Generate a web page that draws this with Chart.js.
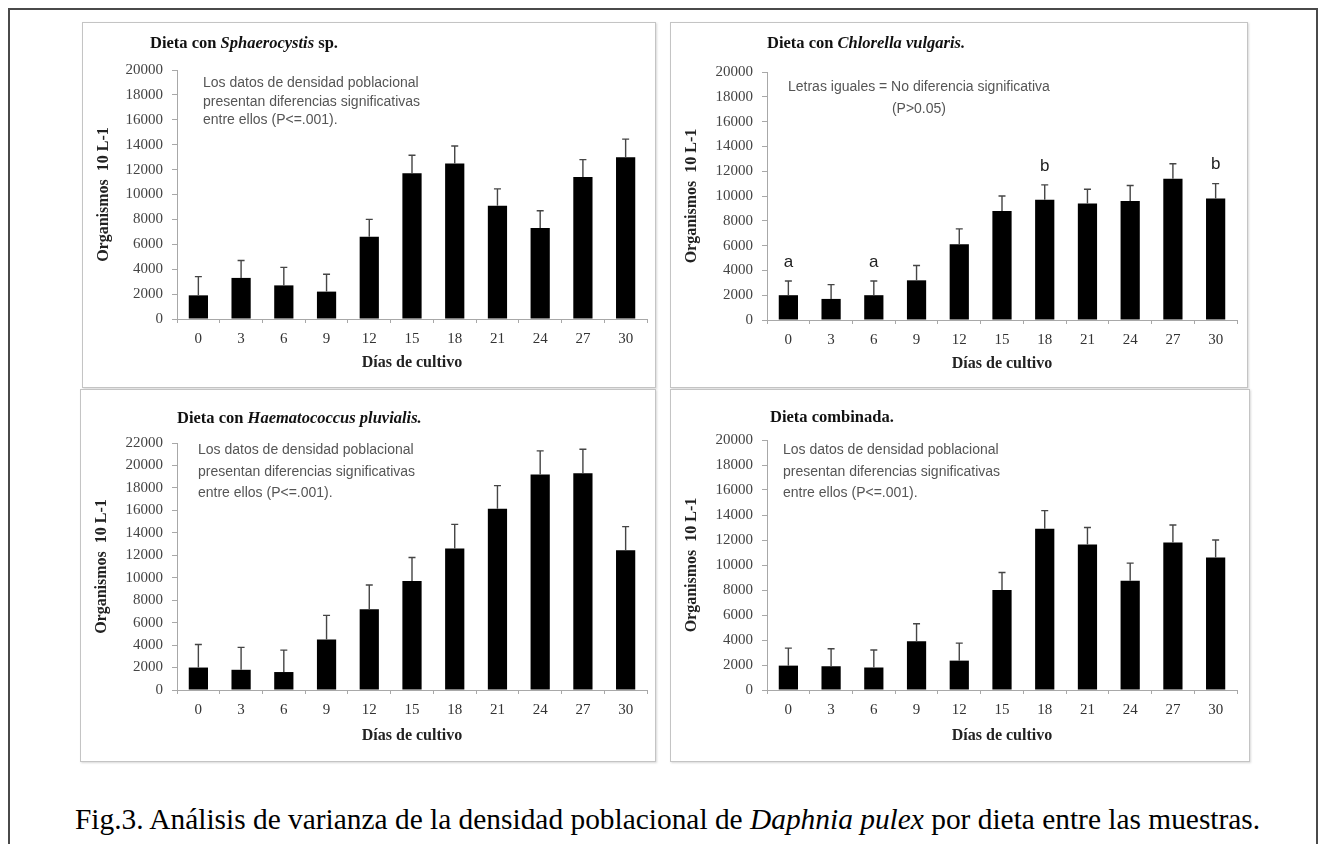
<!DOCTYPE html>
<html lang="es">
<head>
<meta charset="utf-8">
<title>Fig.3 Daphnia pulex</title>
<script src="https://cdn.jsdelivr.net/npm/chart.js@4.4.1/dist/chart.umd.min.js"></script>
<style>
  html, body { margin: 0; padding: 0; background: #fff; }
  body { width: 1326px; height: 844px; position: relative; overflow: hidden; }
  .frame { position: absolute; left: 8px; top: 8px; width: 1310px; height: 860px; border: 2px solid #4a4a4a; box-sizing: border-box; }
  .panel { position: absolute; border: 1px solid #c4c4c4; box-shadow: 1px 1px 2px #d8d8d8; box-sizing: border-box; background: #fff; }
  .panel canvas { display: block; }
  .ttl { position: absolute; font: bold 16.5px 'Liberation Serif', 'Times New Roman', serif; color: #111; white-space: nowrap; }
  .nota { position: absolute; font: 14px 'Liberation Sans', Arial, sans-serif; color: #555; white-space: nowrap; }
  .caption { position: absolute; left: 75px; top: 805px; font: 29.4px/29px 'Liberation Serif', 'Times New Roman', serif; color: #000; white-space: nowrap; }
</style>
</head>
<body>
<div class="frame"></div>

<div class="panel" style="left:82px;top:22px;width:574px;height:366px"><canvas id="chart-sphaero"></canvas></div>
<div class="panel" style="left:670px;top:22px;width:578px;height:366px"><canvas id="chart-chlorella"></canvas></div>
<div class="panel" style="left:80px;top:389px;width:576px;height:373px"><canvas id="chart-haemato"></canvas></div>
<div class="panel" style="left:670px;top:389px;width:580px;height:373px"><canvas id="chart-combinada"></canvas></div>

<div class="ttl" style="left:150px;top:33px">Dieta con <i>Sphaerocystis</i> sp.</div>
<div class="nota" style="left:203px;top:73px;line-height:18.5px">Los datos de densidad poblacional<br>presentan diferencias significativas<br>entre ellos (P&lt;=.001).</div>

<div class="ttl" style="left:767px;top:33px">Dieta con <i>Chlorella vulgaris.</i></div>
<div class="nota" style="left:788px;top:75px;line-height:22px;text-align:center">Letras iguales = No diferencia significativa<br>(P&gt;0.05)</div>

<div class="ttl" style="left:177px;top:408px">Dieta con <i>Haematococcus pluvialis.</i></div>
<div class="nota" style="left:198px;top:439px;line-height:21.5px">Los datos de densidad poblacional<br>presentan diferencias significativas<br>entre ellos (P&lt;=.001).</div>

<div class="ttl" style="left:770px;top:407px">Dieta combinada.</div>
<div class="nota" style="left:783px;top:439px;line-height:21.5px">Los datos de densidad poblacional<br>presentan diferencias significativas<br>entre ellos (P&lt;=.001).</div>

<div class="caption">Fig.3. Análisis de varianza de la densidad poblacional de <i>Daphnia pulex</i> por dieta entre las muestras.</div>

<script>
// ── Data ──────────────────────────────────────────────────────
const dias = ['0', '3', '6', '9', '12', '15', '18', '21', '24', '27', '30'];

const sphaeroMedia = [1900, 3300, 2700, 2200, 6600, 11700, 12500, 9100, 7300, 11400, 13000];
const sphaeroError = [1500, 1400, 1450, 1400, 1400, 1450, 1400, 1350, 1400, 1400, 1450];

const chlorellaMedia = [2000, 1700, 2000, 3200, 6100, 8800, 9700, 9400, 9600, 11400, 9800];
const chlorellaError = [1150, 1150, 1150, 1200, 1250, 1200, 1200, 1150, 1250, 1200, 1200];
const chlorellaLetras = ['a', '', 'a', '', '', '', 'b', '', '', '', 'b'];

const haematoMedia = [2000, 1800, 1600, 4500, 7200, 9700, 12600, 16150, 19200, 19300, 12450];
const haematoError = [2050, 2000, 1950, 2150, 2150, 2100, 2150, 2050, 2100, 2150, 2100];

const combinadaMedia = [1950, 1900, 1800, 3900, 2350, 8000, 12900, 11650, 8750, 11800, 10600];
const combinadaError = [1400, 1400, 1400, 1400, 1400, 1400, 1450, 1350, 1400, 1400, 1400];

const ticksY20 = [0, 2000, 4000, 6000, 8000, 10000, 12000, 14000, 16000, 18000, 20000];
const ticksY22 = [0, 2000, 4000, 6000, 8000, 10000, 12000, 14000, 16000, 18000, 20000, 22000];

const SERIF = "'Liberation Serif', 'Times New Roman', serif";

// ── Error bars + significance letters ─────────────────────────
const errorBarsPlugin = {
  id: 'errorBars',
  afterDatasetsDraw(chart, args, opts) {
    const { ctx } = chart;
    const yScale = chart.scales.y;
    const meta = chart.getDatasetMeta(0);
    const values = chart.data.datasets[0].data;
    const errs = opts.errors || [];
    const letras = opts.letras || [];

    ctx.save();
    ctx.strokeStyle = '#454545';
    ctx.lineWidth = 1.4;
    meta.data.forEach((bar, i) => {
      const yTop = yScale.getPixelForValue(values[i] + errs[i]);
      ctx.beginPath();
      ctx.moveTo(bar.x, bar.y);
      ctx.lineTo(bar.x, yTop);
      ctx.moveTo(bar.x - 3.5, yTop);
      ctx.lineTo(bar.x + 3.5, yTop);
      ctx.stroke();

      if (letras[i]) {
        ctx.fillStyle = '#222';
        ctx.font = "17px 'Liberation Sans', Arial, sans-serif";
        ctx.textAlign = 'center';
        ctx.textBaseline = 'middle';
        ctx.fillText(letras[i], bar.x, yTop - 19);
      }
    });
    ctx.restore();
  }
};

// ── Panel builder ─────────────────────────────────────────────
function makePanel(id, media, errores, tickList, letras, geo) {
  const canvas = document.getElementById(id);
  const box = canvas.parentElement;
  canvas.width = box.clientWidth;
  canvas.height = box.clientHeight;

  return new Chart(canvas, {
    type: 'bar',
    data: {
      labels: dias,
      datasets: [{
        data: media,
        backgroundColor: '#000',
        borderWidth: 0,
        barPercentage: 0.45,
        categoryPercentage: 1,
      }]
    },
    options: {
      responsive: false,
      animation: false,
      layout: { padding: { left: 0, right: geo.right, top: geo.top, bottom: 0 } },
      plugins: {
        legend: { display: false },
        tooltip: { enabled: false },
        errorBars: { errors: errores, letras: letras || [] },
      },
      scales: {
        x: {
          grid: { drawOnChartArea: false, offset: true, tickLength: 4, color: '#a8a8a8' },
          border: { color: '#a8a8a8', width: 1 },
          ticks: { color: '#333', padding: 7, font: { family: SERIF, size: 15 } },
          title: {
            display: true,
            text: 'Días de cultivo',
            color: '#222',
            padding: { top: 0, bottom: geo.xTitlePad },
            font: { family: SERIF, size: 16, weight: 'bold' },
          },
          afterFit: s => { s.height = geo.xHeight; },
        },
        y: {
          min: 0,
          max: tickList[tickList.length - 1],
          afterBuildTicks: s => { s.ticks = tickList.map(v => ({ value: v })); },
          grid: { drawOnChartArea: false, tickLength: 5, color: '#a8a8a8' },
          border: { color: '#a8a8a8', width: 1 },
          ticks: {
            color: '#444',
            padding: 9,
            font: { family: SERIF, size: 15 },
            callback: v => String(v),
          },
          title: {
            display: true,
            text: 'Organismos  10 L-1',
            color: '#222',
            padding: { top: 11, bottom: 0 },
            font: { family: SERIF, size: 16, weight: 'bold' },
          },
          afterFit: s => { s.width = geo.yWidth; },
        }
      }
    },
    plugins: [errorBarsPlugin]
  });
}

makePanel('chart-sphaero', sphaeroMedia, sphaeroError, ticksY20, null,
  { top: 47, right: 8, yWidth: 94, xHeight: 68, xTitlePad: 15 });
makePanel('chart-chlorella', chlorellaMedia, chlorellaError, ticksY20, chlorellaLetras,
  { top: 49, right: 10, yWidth: 96, xHeight: 67, xTitlePad: 14 });
makePanel('chart-haemato', haematoMedia, haematoError, ticksY22, null,
  { top: 53, right: 8, yWidth: 96, xHeight: 71, xTitlePad: 16 });
makePanel('chart-combinada', combinadaMedia, combinadaError, ticksY20, null,
  { top: 50, right: 12, yWidth: 96, xHeight: 71, xTitlePad: 16 });
</script>
</body>
</html>
